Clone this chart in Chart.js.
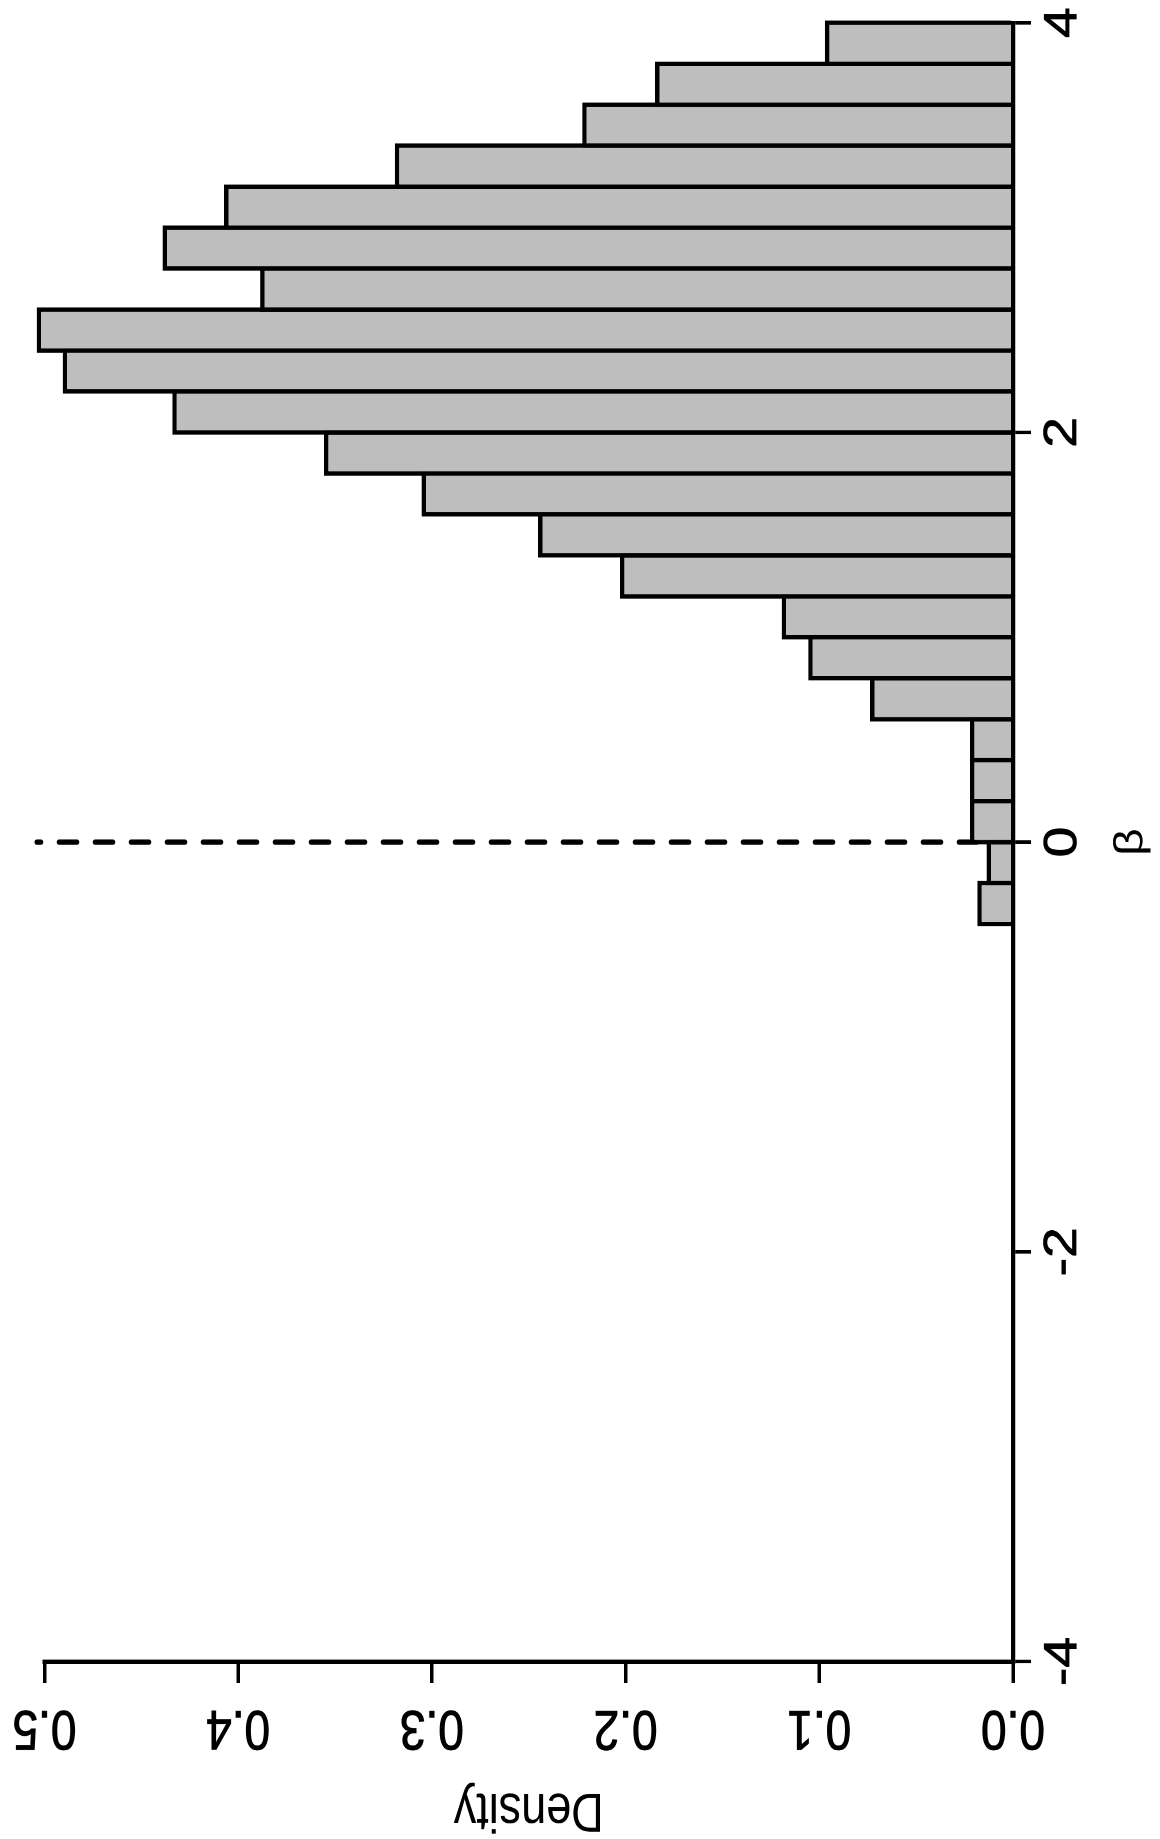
<!DOCTYPE html>
<html>
<head>
<meta charset="utf-8">
<script src="https://cdn.jsdelivr.net/npm/chart.js@4.4.1/dist/chart.umd.min.js"></script>
<style>
  html, body { margin: 0; padding: 0; background: #fff; overflow: hidden; }
  #page { position: relative; width: 1160px; height: 1839px; overflow: hidden; background: #fff; }
  /* the plot is drawn upright, then turned a quarter turn and stretched like the original */
  #wrap {
    position: absolute; left: 0; top: 0;
    width: 1533px; height: 1160px;
    transform-origin: 0 0;
    transform: translate(0px, 1839px) scale(1, 1.19961) rotate(-90deg);
  }
</style>
</head>
<body>
<div id="page">
  <div id="wrap"><canvas id="hist" width="1533" height="1160"></canvas></div>
</div>
<script>
// histogram bins (bin mid points, width 0.2) and their densities
const binMids = [-0.3, -0.1, 0.1, 0.3, 0.5, 0.7, 0.9, 1.1, 1.3, 1.5, 1.7,
                 1.9, 2.1, 2.3, 2.5, 2.7, 2.9, 3.1, 3.3, 3.5, 3.7, 3.9];
const densities = [0.0184, 0.0136, 0.0222, 0.0222, 0.0222, 0.0738, 0.1057, 0.1194, 0.2029, 0.2452, 0.3053,
                   0.3557, 0.4340, 0.4906, 0.5040, 0.3887, 0.4390, 0.4073, 0.3191, 0.2224, 0.1848, 0.0971];

const betaTicks = [-4, -2, 0, 2, 4];
const betaLabels = ["-4", "-2", "0", "2", "4"];
const densityTicks = [0, 0.1, 0.2, 0.3, 0.4, 0.5];
const densityLabels = ["0.0", "0.1", "0.2", "0.3", "0.4", "0.5"];

// dashed reference line at beta = 0
const refBeta = [0, 0];
const refDensity = [0, 0.504];

const FONT = "'Liberation Sans', Arial, Helvetica, sans-serif";

function buildChart() {
  const ctx = document.getElementById("hist").getContext("2d");

  return new Chart(ctx, {
    type: "bar",
    data: {
      datasets: [
        {
          type: "bar",
          data: binMids.map((b, i) => ({ x: b, y: densities[i] })),
          backgroundColor: "#bebebe",
          borderColor: "#000000",
          borderWidth: { top: 4.4, left: 3.8, right: 3.8, bottom: 0 },
          borderSkipped: "start",
          barPercentage: 1.111,   // sides overlap so neighbours share one border
          categoryPercentage: 1,
          inflateAmount: 0,
          clip: false,
          order: 0,
        },
        {
          type: "line",
          data: refBeta.map((b, i) => ({ x: b, y: refDensity[i] })),
          borderColor: "#000000",
          borderWidth: 4.5,
          borderDash: [18, 18],
          borderCapStyle: "round",
          pointRadius: 0,
          fill: false,
          clip: false,
          order: 1,
        },
      ],
    },
    options: {
      responsive: false,
      animation: false,
      devicePixelRatio: 2,
      events: [],
      layout: { padding: { left: 0, right: 19, top: 44.5, bottom: 0 } },
      plugins: {
        legend: { display: false },
        tooltip: { enabled: false },
      },
      scales: {
        x: {
          type: "linear",
          min: -4,
          max: 4,
          offset: false,
          afterBuildTicks: (s) => { s.ticks = betaTicks.map((v) => ({ value: v })); },
          afterFit: (s) => { s.height = 147; },
          grid: {
            display: true, drawOnChartArea: false, drawTicks: true,
            tickLength: 18, lineWidth: 3, color: "#000000", offset: false,
          },
          border: { display: true, color: "#000000", width: 4.3, z: 1 },
          ticks: {
            font: { family: FONT, size: 46 },
            color: "#000000",
            textStrokeColor: "#000000",
            textStrokeWidth: 0.8,
            padding: 4.7,
            minRotation: 0,
            maxRotation: 0,
            autoSkip: false,
            callback: (v, i) => betaLabels[i],
          },
          title: {
            display: true,
            text: "β",
            color: "#000000",
            font: { family: FONT, size: 40, lineHeight: 1 },
            padding: { top: 0, bottom: 8.8 },
          },
        },
        y: {
          type: "linear",
          min: 0,
          max: 0.5,
          afterBuildTicks: (s) => { s.ticks = densityTicks.map((v) => ({ value: v })); },
          afterFit: (s) => { s.width = 148; },
          grid: {
            display: true, drawOnChartArea: false, drawTicks: true,
            tickLength: 18, lineWidth: 3.5, color: "#000000",
          },
          border: { display: true, color: "#000000", width: 3.6, z: 1 },
          ticks: {
            font: { family: FONT, size: 46 },
            color: "#000000",
            textStrokeColor: "#000000",
            textStrokeWidth: 0.8,
            padding: 4.4,
            minRotation: 90,
            maxRotation: 90,
            crossAlign: "center",
            autoSkip: false,
            callback: (v, i) => densityLabels[i],
          },
          title: {
            display: true,
            text: "Density",
            color: "#000000",
            font: { family: FONT, size: 45, lineHeight: 1 },
            padding: { top: 2.7, bottom: 0 },
          },
        },
      },
    },
  });
}

buildChart();
</script>
</body>
</html>
